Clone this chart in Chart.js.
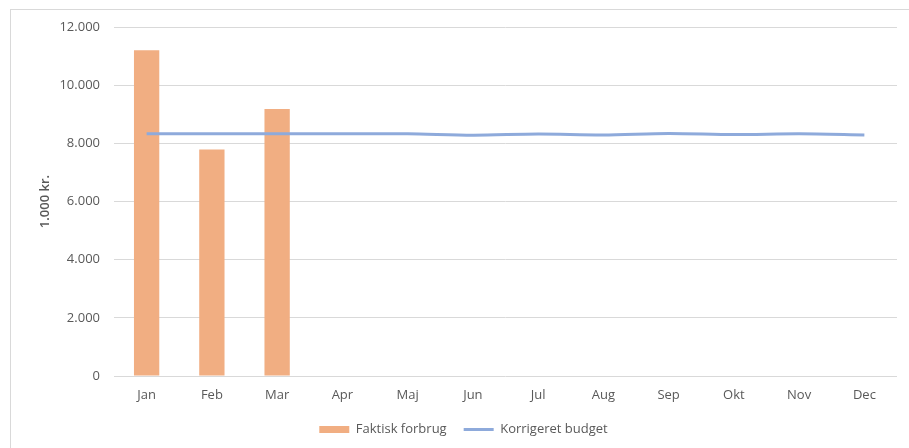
<!DOCTYPE html>
<html>
<head>
<meta charset="utf-8">
<script src="https://cdn.jsdelivr.net/npm/chart.js@4/dist/chart.umd.min.js"></script>
<style>
  html, body { margin: 0; padding: 0; background: #fff; }
  #wrap { position: relative; width: 909px; height: 448px; overflow: hidden; }
  #frame { position: absolute; left: 10px; top: 9px; width: 920px; height: 460px;
           border-left: 1px solid #D9D9D9; border-top: 1px solid #D9D9D9; }
  canvas { position: absolute; left: 0; top: 0; }
</style>
</head>
<body>
<div id="wrap">
  <div id="frame"></div>
  <canvas id="c" width="909" height="448"></canvas>
</div>
<script>
const months = ['Jan','Feb','Mar','Apr','Maj','Jun','Jul','Aug','Sep','Okt','Nov','Dec'];
const actualSpend = [11200, 7790, 9180, null, null, null, null, null, null, null, null, null];
const correctedBudget = [8330, 8330, 8330, 8330, 8330, 8280, 8320, 8290, 8340, 8300, 8330, 8290];
const seriesNames = ['Faktisk forbrug', 'Korrigeret budget'];
const yTitle = '1.000 kr.';

const fontFam = '"Open Sans", "Noto Sans", sans-serif';
const txt = '#595959';

new Chart(document.getElementById('c'), {
  type: 'bar',
  data: {
    labels: months,
    datasets: [
      {
        type: 'bar',
        label: seriesNames[0],
        data: actualSpend,
        backgroundColor: '#F1AE82',
        borderWidth: 0,
        barPercentage: 1,
        categoryPercentage: 0.388,
        pointStyle: 'rect',
        order: 2
      },
      {
        type: 'line',
        label: seriesNames[1],
        data: correctedBudget,
        borderColor: '#8EAADB',
        backgroundColor: '#8EAADB',
        borderWidth: 3,
        pointRadius: 0,
        pointStyle: 'line',
        tension: 0.3,
        order: 1
      }
    ]
  },
  options: {
    responsive: false,
    animation: false,
    layout: { padding: { left: 30, right: 12, top: 27, bottom: 2 } },
    plugins: {
      legend: {
        position: 'bottom',
        labels: {
          color: txt,
          font: { family: fontFam, size: 13 },
          usePointStyle: true,
          pointStyleWidth: 30,
          boxHeight: 7,
          padding: 17,
          sort: (a, b) => a.datasetIndex - b.datasetIndex
        }
      },
      tooltip: { enabled: false }
    },
    scales: {
      x: {
        grid: { display: false },
        border: { display: false },
        ticks: { color: txt, font: { family: fontFam, size: 13 }, padding: 3, maxRotation: 0 },
        afterFit: (s) => { s.height = 30; }
      },
      y: {
        min: 0,
        max: 12000,
        ticks: {
          stepSize: 2000,
          color: txt,
          padding: 14,
          font: { family: fontFam, size: 13 },
          callback: (v) => v.toLocaleString('da-DK')
        },
        grid: { color: '#D9D9D9', drawTicks: false, lineWidth: 1 },
        border: { display: false },
        title: {
          display: true,
          text: yTitle,
          color: txt,
          font: { family: fontFam, size: 13, weight: 600 },
          padding: { top: 7, bottom: 0 }
        },
        afterFit: (s) => { s.width = 84; }
      }
    }
  }
});
</script>
</body>
</html>
